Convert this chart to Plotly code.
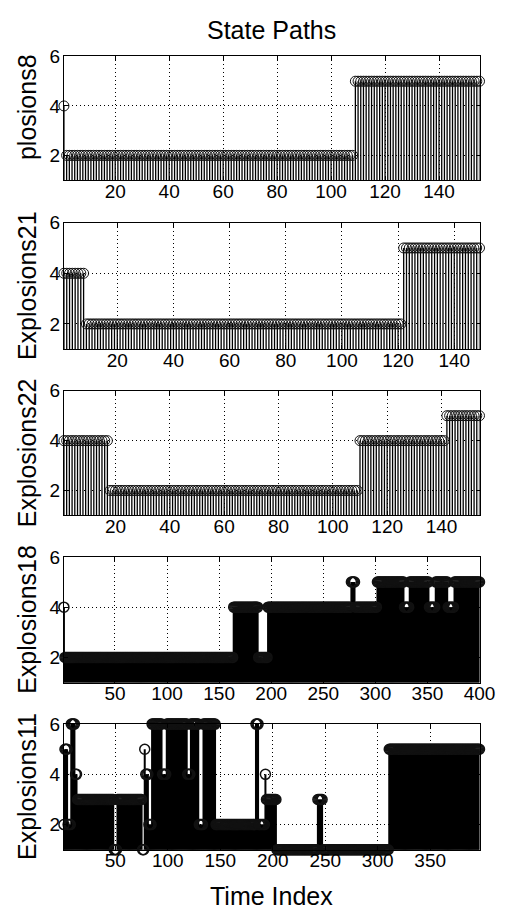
import plotly.graph_objects as go

# ---------------- data ----------------
# each series given as runs of (state value, number of consecutive time steps)
labels = ["plosions8", "Explosions21", "Explosions22", "Explosions18", "Explosions11"]

runs_ex8 = [(4, 1), (2, 107), (5, 47)]
runs_ex21 = [(4, 8), (2, 113), (5, 28)]
runs_ex22 = [(4, 17), (2, 92), (4, 32), (5, 13)]
runs_ex18 = [(4, 1), (2, 162), (4, 24), (2, 9), (4, 80), (5, 4), (4, 21), (5, 26),
             (4, 5), (5, 19), (4, 6), (5, 12), (4, 6), (5, 25)]
runs_ex11 = [(2, 1), (5, 3), (2, 3), (6, 4), (4, 2), (3, 35), (1, 3), (3, 24), (1, 2),
             (5, 1), (4, 3), (2, 3), (6, 10), (4, 4), (6, 20), (4, 3), (6, 8), (2, 4),
             (6, 12), (2, 38), (6, 3), (2, 6), (4, 1), (3, 10), (1, 39), (3, 5),
             (1, 63), (5, 87)]
all_runs = [runs_ex8, runs_ex21, runs_ex22, runs_ex18, runs_ex11]

xticks_small = [20, 40, 60, 80, 100, 120, 140]
xticks_18 = [50, 100, 150, 200, 250, 300, 350, 400]
xticks_11 = [50, 100, 150, 200, 250, 300, 350]
all_xticks = [xticks_small, xticks_small, xticks_small, xticks_18, xticks_11]
yticks = [2, 4, 6]

title_text = "State Paths"
xlabel_text = "Time Index"

# ---------------- layout constants ----------------
W, H = 511, 912
LEFT, RIGHT = 66, 495
rows_px = [(47, 172), (215, 343), (385, 511), (553, 680), (722, 849)]
stem_w = [1.3, 1.3, 1.3, 2.0, 2.0]
mark_w = [1, 1, 1, 1.5, 1.5]
FONT = "Liberation Sans, Arial, Helvetica, sans-serif"

fig = go.Figure()


def expand(runs):
    out = []
    for v, n in runs:
        out.extend([v] * n)
    return out


layout_axes = {}
annotations = []
for k, runs in enumerate(all_runs):
    vals = expand(runs)
    xs = list(range(1, len(vals) + 1))
    sx, sy = [], []
    for x, v in zip(xs, vals):
        sx += [x, x, None]
        sy += [0, v, None]
    suf = "" if k == 0 else str(k + 1)
    fig.add_trace(go.Scatter(x=sx, y=sy, mode="lines",
                             line=dict(color="#000000", width=stem_w[k]),
                             xaxis="x" + suf, yaxis="y" + suf,
                             hoverinfo="skip", showlegend=False))
    fig.add_trace(go.Scatter(x=xs, y=vals, mode="markers",
                             marker=dict(symbol="circle-open", size=10, color="#111111",
                                         line=dict(width=mark_w[k])),
                             cliponaxis=False,
                             xaxis="x" + suf, yaxis="y" + suf,
                             hoverinfo="skip", showlegend=False))
    top, bot = rows_px[k]
    common = dict(showline=True, linecolor="black", linewidth=1, mirror="allticks",
                  ticks="inside", ticklen=4, tickcolor="black",
                  showgrid=True, gridcolor="black", gridwidth=1, griddash="1px,3px",
                  zeroline=False, tickfont=dict(family=FONT, size=19, color="black"))
    layout_axes["xaxis" + suf] = dict(domain=[LEFT / W, RIGHT / W], range=[1, len(vals)],
                                      anchor="y" + suf, tickvals=all_xticks[k],
                                      ticklabelstandoff=-6, **common)
    layout_axes["yaxis" + suf] = dict(domain=[1 - bot / H, 1 - top / H], range=[1, 6],
                                      anchor="x" + suf, tickvals=yticks,
                                      ticklabelstandoff=-1, **common)
    ycenter = (top + bot) / 2 if k > 0 else 98
    annotations.append(dict(text=labels[k], x=28 / W, y=1 - ycenter / H,
                            xref="paper", yref="paper", xanchor="center", yanchor="middle",
                            textangle=-90, showarrow=False,
                            font=dict(family=FONT, size=25, color="black")))

annotations.append(dict(text=title_text, x=(LEFT + RIGHT) / 2 / W, y=1 - 20 / H,
                        xref="paper", yref="paper", xanchor="center", yanchor="middle",
                        showarrow=False, font=dict(family=FONT, size=25, color="black")))
annotations.append(dict(text=xlabel_text, x=(LEFT + RIGHT) / 2 / W, y=1 - 896 / H,
                        xref="paper", yref="paper", xanchor="center", yanchor="middle",
                        showarrow=False, font=dict(family=FONT, size=25, color="black")))

fig.update_layout(width=W, height=H, margin=dict(l=0, r=0, t=0, b=0),
                  paper_bgcolor="white", plot_bgcolor="white",
                  showlegend=False, annotations=annotations, **layout_axes)

fig.write_html("out.html", config={"displayModeBar": False})
